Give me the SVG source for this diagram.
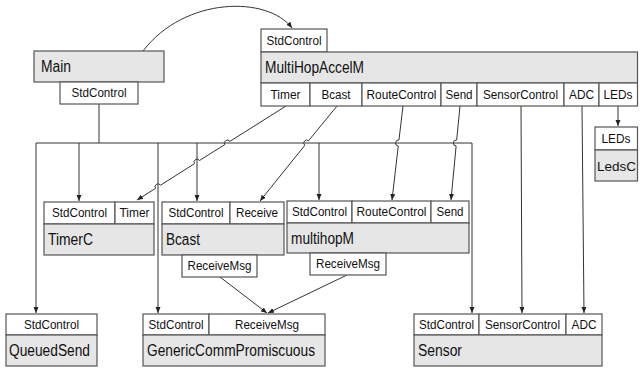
<svg xmlns="http://www.w3.org/2000/svg" width="640" height="370" viewBox="0 0 640 370">
<defs>
<style>
.box{fill:#e6e6e6;stroke:#555;stroke-width:1.2}
.port{fill:#fff;stroke:#555;stroke-width:1.2}
.pt{font-family:"Liberation Sans",Arial,sans-serif;font-size:13px;fill:#111;text-anchor:middle}
.tt{font-family:"Liberation Sans",Arial,sans-serif;font-size:16px;fill:#111}
.ln{fill:none;stroke:#333;stroke-width:1}
</style>
<marker id="ah" markerWidth="7" markerHeight="6" refX="6" refY="2.5" orient="auto" markerUnits="userSpaceOnUse">
<path d="M0,0 L6,2.5 L0,5 z" fill="#222"/>
</marker>
</defs>
<rect width="640" height="370" fill="#fff"/>

<g id="connectors">
<path class="ln" d="M143,51 C185,-4 268,-4 292,28" marker-end="url(#ah)"/>
<path class="ln" d="M99,104 V143"/>
<path class="ln" d="M36,143 H472 V313" marker-end="url(#ah)"/>
<path class="ln" d="M36,143 V313" marker-end="url(#ah)"/>
<path class="ln" d="M79,143 V201" marker-end="url(#ah)"/>
<path class="ln" d="M158,143 V313" marker-end="url(#ah)"/>
<path class="ln" d="M197,143 V201" marker-end="url(#ah)"/>
<path class="ln" d="M319,143 V200" marker-end="url(#ah)"/>
<path class="ln" d="M286,106 L229.83,141.39 A3,3 0 0 0 224.77,144.61 L199.53,160.49 A3,3 0 0 0 194.47,163.71 L160.53,185.19 A3,3 0 0 0 155.47,188.41 L137,200" marker-end="url(#ah)"/>
<path class="ln" d="M337,106 L308.6,140.68 A3,3 0 0 0 304.8,145.32 L260,201" marker-end="url(#ah)"/>
<path class="ln" d="M403,106 L398.95,140.02 A3,3 0 0 0 398.25,145.98 L392,200" marker-end="url(#ah)"/>
<path class="ln" d="M460,106 L456.69,140.01 A3,3 0 0 0 456.11,145.99 L451,200" marker-end="url(#ah)"/>
<path class="ln" d="M521,106 L522,313" marker-end="url(#ah)"/>
<path class="ln" d="M582,106 L584,313" marker-end="url(#ah)"/>
<path class="ln" d="M618,106 V126" marker-end="url(#ah)"/>
<path class="ln" d="M220,277 L267,313" marker-end="url(#ah)"/>
<path class="ln" d="M347,275 L268,313" marker-end="url(#ah)"/>
</g>

<g id="Main">
<rect class="box" x="34" y="51" width="130" height="31"/>
<text class="tt" x="41" y="72" textLength="30" lengthAdjust="spacingAndGlyphs">Main</text>
<rect class="port" x="60" y="82" width="78" height="22"/>
<text class="pt" x="99" y="97" textLength="55" lengthAdjust="spacingAndGlyphs">StdControl</text>
</g>

<g id="MultiHopAccelM">
<rect class="port" x="261" y="29" width="66" height="23"/>
<text class="pt" x="294" y="45" textLength="55" lengthAdjust="spacingAndGlyphs">StdControl</text>
<rect class="box" x="261" y="52" width="376.5" height="31"/>
<text class="tt" x="265" y="73" textLength="99" lengthAdjust="spacingAndGlyphs">MultiHopAccelM</text>
<rect class="port" x="261" y="83" width="49" height="23"/>
<text class="pt" x="285.5" y="99" textLength="30" lengthAdjust="spacingAndGlyphs">Timer</text>
<rect class="port" x="310" y="83" width="52" height="23"/>
<text class="pt" x="336" y="99" textLength="29" lengthAdjust="spacingAndGlyphs">Bcast</text>
<rect class="port" x="362" y="83" width="79" height="23"/>
<text class="pt" x="401.5" y="99" textLength="70" lengthAdjust="spacingAndGlyphs">RouteControl</text>
<rect class="port" x="441" y="83" width="36" height="23"/>
<text class="pt" x="459" y="99" textLength="27" lengthAdjust="spacingAndGlyphs">Send</text>
<rect class="port" x="477" y="83" width="87" height="23"/>
<text class="pt" x="520.5" y="99" textLength="75" lengthAdjust="spacingAndGlyphs">SensorControl</text>
<rect class="port" x="564" y="83" width="35" height="23"/>
<text class="pt" x="581.5" y="99" textLength="25" lengthAdjust="spacingAndGlyphs">ADC</text>
<rect class="port" x="599" y="83" width="38.5" height="23"/>
<text class="pt" x="618" y="99" textLength="29" lengthAdjust="spacingAndGlyphs">LEDs</text>
</g>

<g id="LedsC">
<rect class="port" x="595" y="127" width="42.5" height="23"/>
<text class="pt" x="616" y="143" textLength="29" lengthAdjust="spacingAndGlyphs">LEDs</text>
<rect class="box" x="595" y="150" width="42.5" height="31"/>
<text class="tt" x="597" y="171" style="font-size:13.5px">LedsC</text>
</g>

<g id="TimerC">
<rect class="port" x="44" y="202" width="71" height="22"/>
<text class="pt" x="79.5" y="217" textLength="55" lengthAdjust="spacingAndGlyphs">StdControl</text>
<rect class="port" x="115" y="202" width="39" height="22"/>
<text class="pt" x="134.5" y="217" textLength="30" lengthAdjust="spacingAndGlyphs">Timer</text>
<rect class="box" x="44" y="224" width="110" height="31"/>
<text class="tt" x="48" y="245" textLength="45" lengthAdjust="spacingAndGlyphs">TimerC</text>
</g>

<g id="Bcast">
<rect class="port" x="162" y="202" width="68" height="22"/>
<text class="pt" x="196" y="217" textLength="55" lengthAdjust="spacingAndGlyphs">StdControl</text>
<rect class="port" x="230" y="202" width="54" height="22"/>
<text class="pt" x="257" y="217" textLength="42" lengthAdjust="spacingAndGlyphs">Receive</text>
<rect class="box" x="162" y="224" width="122" height="31"/>
<text class="tt" x="166" y="245" textLength="34" lengthAdjust="spacingAndGlyphs">Bcast</text>
<rect class="port" x="182" y="255" width="75" height="22"/>
<text class="pt" x="219.5" y="270" textLength="64" lengthAdjust="spacingAndGlyphs">ReceiveMsg</text>
</g>

<g id="multihopM">
<rect class="port" x="287" y="201" width="65" height="22"/>
<text class="pt" x="319.5" y="216" textLength="55" lengthAdjust="spacingAndGlyphs">StdControl</text>
<rect class="port" x="352" y="201" width="79" height="22"/>
<text class="pt" x="391.5" y="216" textLength="70" lengthAdjust="spacingAndGlyphs">RouteControl</text>
<rect class="port" x="431" y="201" width="38" height="22"/>
<text class="pt" x="450" y="216" textLength="27" lengthAdjust="spacingAndGlyphs">Send</text>
<rect class="box" x="287" y="223" width="182" height="30"/>
<text class="tt" x="291" y="244" textLength="63" lengthAdjust="spacingAndGlyphs">multihopM</text>
<rect class="port" x="310" y="253" width="76" height="22"/>
<text class="pt" x="348" y="268" textLength="64" lengthAdjust="spacingAndGlyphs">ReceiveMsg</text>
</g>

<g id="QueuedSend">
<rect class="port" x="6" y="314" width="91" height="21"/>
<text class="pt" x="51.5" y="329" textLength="55" lengthAdjust="spacingAndGlyphs">StdControl</text>
<rect class="box" x="6" y="335" width="91" height="31"/>
<text class="tt" x="9" y="356" textLength="81" lengthAdjust="spacingAndGlyphs">QueuedSend</text>
</g>

<g id="GenericCommPromiscuous">
<rect class="port" x="143" y="314" width="66" height="21"/>
<text class="pt" x="176" y="329" textLength="55" lengthAdjust="spacingAndGlyphs">StdControl</text>
<rect class="port" x="209" y="314" width="116" height="21"/>
<text class="pt" x="267" y="329" textLength="64" lengthAdjust="spacingAndGlyphs">ReceiveMsg</text>
<rect class="box" x="143" y="335" width="182" height="31"/>
<text class="tt" x="147" y="356" textLength="168" lengthAdjust="spacingAndGlyphs">GenericCommPromiscuous</text>
</g>

<g id="Sensor">
<rect class="port" x="414" y="314" width="65" height="21"/>
<text class="pt" x="446.5" y="329" textLength="55" lengthAdjust="spacingAndGlyphs">StdControl</text>
<rect class="port" x="479" y="314" width="87" height="21"/>
<text class="pt" x="522.5" y="329" textLength="75" lengthAdjust="spacingAndGlyphs">SensorControl</text>
<rect class="port" x="566" y="314" width="36" height="21"/>
<text class="pt" x="584" y="329" textLength="25" lengthAdjust="spacingAndGlyphs">ADC</text>
<rect class="box" x="414" y="335" width="188" height="31"/>
<text class="tt" x="418" y="356" textLength="44" lengthAdjust="spacingAndGlyphs">Sensor</text>
</g>
</svg>
